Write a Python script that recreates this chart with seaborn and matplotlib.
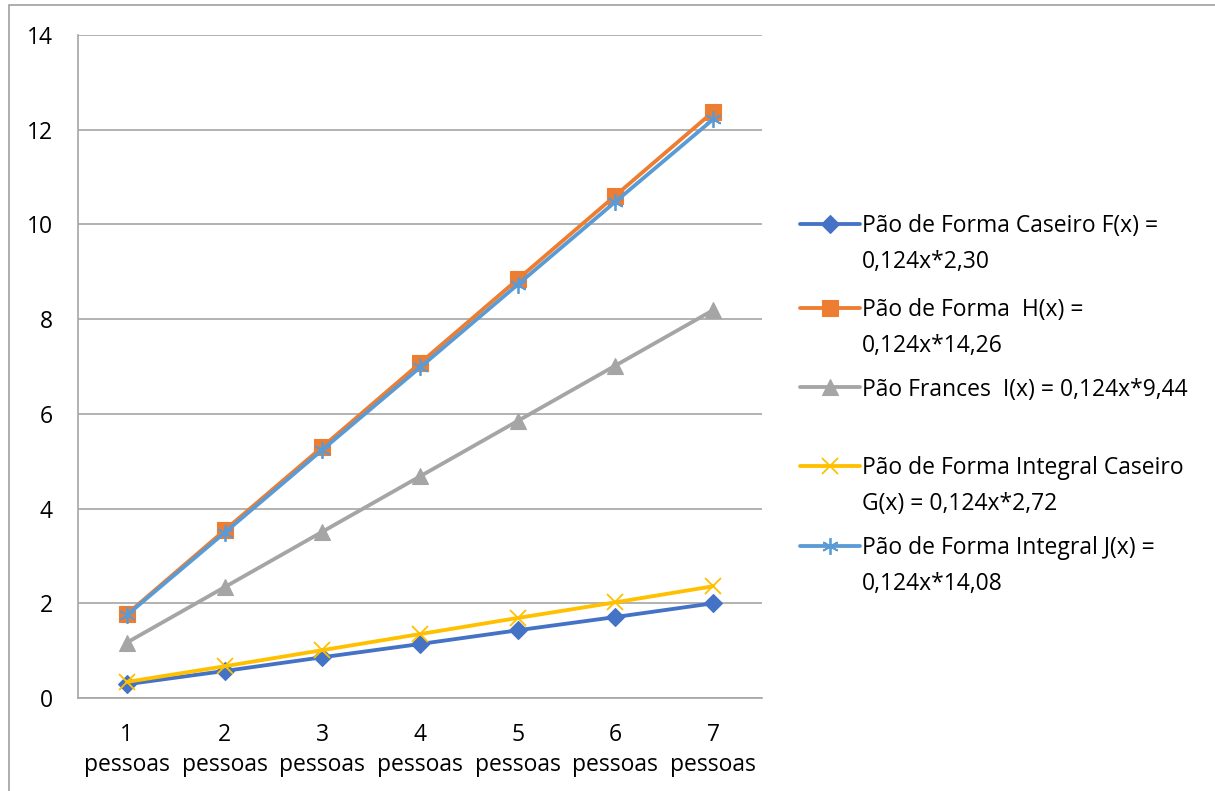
import numpy as np
import pandas as pd
import matplotlib
matplotlib.use("Agg")
import matplotlib.pyplot as plt
import seaborn as sns
from matplotlib.lines import Line2D
from matplotlib.patches import Rectangle

# ---- data ----
categories = ["1\npessoas", "2\npessoas", "3\npessoas", "4\npessoas",
              "5\npessoas", "6\npessoas", "7\npessoas"]
forma_caseiro = [0.29, 0.57, 0.86, 1.14, 1.43, 1.71, 2.00]
forma = [1.77, 3.54, 5.30, 7.07, 8.84, 10.61, 12.38]
frances = [1.17, 2.34, 3.51, 4.68, 5.85, 7.02, 8.19]
integral_caseiro = [0.34, 0.67, 1.01, 1.35, 1.69, 2.02, 2.36]
integral = [1.75, 3.49, 5.24, 6.98, 8.73, 10.48, 12.22]
series_labels = [
    "Pão de Forma Caseiro F(x) =\n0,124x*2,30",
    "Pão de Forma  H(x) =\n0,124x*14,26",
    "Pão Frances  I(x) = 0,124x*9,44",
    "Pão de Forma Integral Caseiro\nG(x) = 0,124x*2,72",
    "Pão de Forma Integral J(x) =\n0,124x*14,08",
]
y_ticks = [0, 2, 4, 6, 8, 10, 12, 14]

# ---- styling ----
colors = ["#4472C4", "#ED7D31", "#A5A5A5", "#FFC000", "#5B9BD5"]
markers = ["D", "s", "^", "x", (6, 2, 0)]
marker_sizes = [9, 11, 11.5, 12, 12]
marker_filled = [True, True, True, False, False]
grid_color = "#A6A6A6"
line_w = 2.75
font_size = 16.5

sns.set_theme(style="white")
plt.rcParams["font.family"] = ["Open Sans", "DejaVu Sans"]

W, H = 1215, 791
fig = plt.figure(figsize=(W / 100, H / 100), dpi=100)
ax = fig.add_axes([78 / W, 1 - 698 / H, (762 - 78) / W, (698 - 35) / H])

all_series = [forma_caseiro, forma, frances, integral_caseiro, integral]
for vals, col, mk, ms, filled in zip(all_series, colors, markers,
                                      marker_sizes, marker_filled):
    df = pd.DataFrame({"grupo": categories, "valor": vals})
    sns.lineplot(data=df, x="grupo", y="valor", ax=ax, color=col,
                 linewidth=line_w, marker=mk, markersize=ms,
                 markeredgecolor=col,
                 markerfacecolor=col if filled else "none",
                 markeredgewidth=0.8 if filled else 1.3,
                 legend=False, sort=False)

# axes
ax.set_xlim(-0.5, len(categories) - 0.5)
ax.set_ylim(0, 14)
ax.set_yticks(y_ticks)
ax.set_xlabel("")
ax.set_ylabel("")
ax.set_xticks(range(len(categories)))
ax.set_xticklabels(categories, fontsize=font_size, color="black",
                   linespacing=1.33)
ax.set_xticks(np.arange(-0.5, len(categories), 1.0), minor=True)
ax.tick_params(axis="x", which="major", length=0, pad=18)
ax.tick_params(axis="x", which="minor", length=7.2, width=1.2,
               color=grid_color, direction="out")
ax.tick_params(axis="y", which="major", length=7.2, width=1.2,
               color=grid_color, direction="out", pad=11,
               labelsize=font_size, labelcolor="black")
ax.yaxis.grid(True, color=grid_color, linewidth=1.2)
ax.xaxis.grid(False)
ax.set_axisbelow(True)
for side in ("top", "right"):
    ax.spines[side].set_visible(False)
for side in ("left", "bottom"):
    ax.spines[side].set_color(grid_color)
    ax.spines[side].set_linewidth(1.2)

# legend drawn beside the plot; each text block hangs from its first line
legend_rows = [224, 308, 387, 466, 546]
text_rise = 9.5
for lab, col, mk, ms, filled, ypx in zip(series_labels, colors, markers,
                                         marker_sizes, marker_filled,
                                         legend_rows):
    yf = 1 - ypx / H
    fig.add_artist(Line2D([800 / W, 860 / W], [yf, yf], color=col,
                          linewidth=line_w, transform=fig.transFigure))
    fig.add_artist(Line2D([830 / W], [yf], marker=mk, markersize=ms,
                          markeredgecolor=col,
                          markerfacecolor=col if filled else "none",
                          markeredgewidth=0.8 if filled else 1.3,
                          linestyle="none", transform=fig.transFigure))
    fig.text(862 / W, 1 - (ypx - text_rise) / H, lab, ha="left",
             va="top", fontsize=font_size, linespacing=1.62,
             color="black")

# chart frame
fig.add_artist(Rectangle((9 / W, -0.05), 1.2, 1.05 - 5 / H,
                         transform=fig.transFigure, fill=False,
                         edgecolor="#A0A0A0", linewidth=1.2,
                         clip_on=False))

fig.savefig("out.png", dpi=100)
